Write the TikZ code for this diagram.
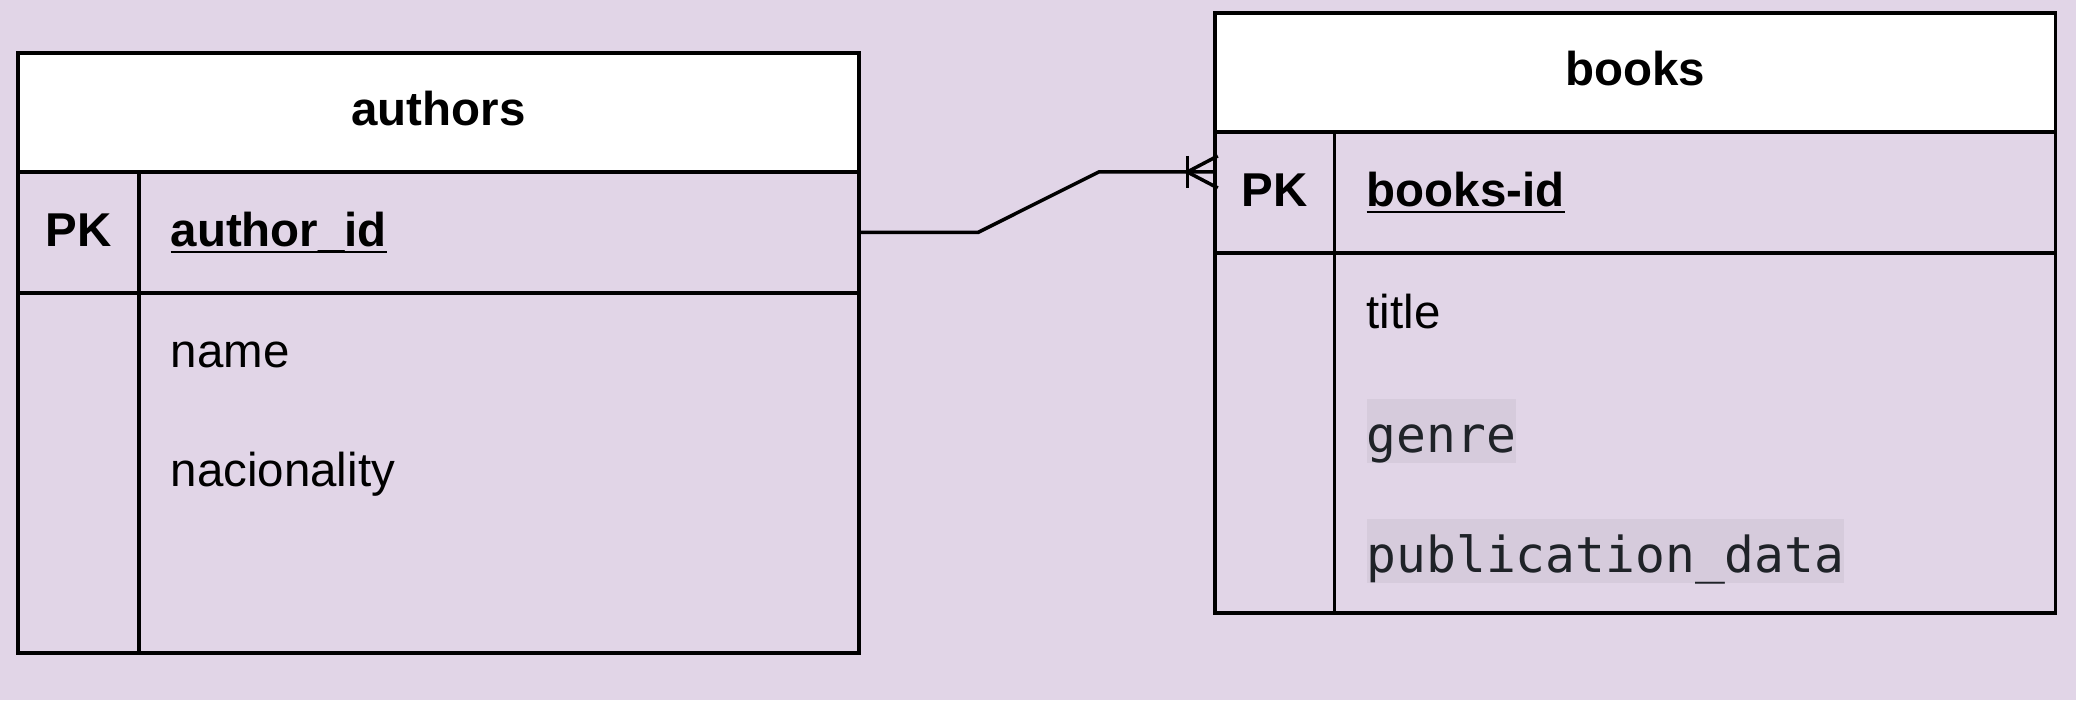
\documentclass[tikz,border=0pt]{standalone}
\usepackage{fontspec}
\setmainfont{Liberation Sans}
\setmonofont{DejaVu Sans Mono}
\usetikzlibrary{positioning,calc}
\definecolor{PAPER}{HTML}{E1D5E7}
\definecolor{MARK}{HTML}{D6CBDC}
\definecolor{CODE}{HTML}{1F2328}
% underlined key field, rule drawn just under the baseline
\newcommand\keyname[1]{\setbox0\hbox{#1}\rlap{\rule[-1.9pt]{\wd0}{0.8pt}}\box0}

\begin{document}
\begin{tikzpicture}[
  x=0.01cm, y=-0.01cm,
  edge/.style={draw=black, line width=1pt},
  tablerow/.style={edge, rectangle, inner sep=0pt, outer sep=0pt, minimum width=8.4cm},
  headrow/.style={tablerow, fill=white, minimum height=1.19cm},
  keyrow/.style={tablerow, minimum height=1.21cm},
  bodyrow/.style={tablerow},
  tabletitle/.style={font=\fontsize{13.5}{16}\selectfont\bfseries, anchor=base, inner sep=0pt},
  keyfield/.style={font=\fontsize{13.5}{16}\selectfont\bfseries, anchor=base west, inner sep=0pt},
  field/.style={font=\fontsize{13.5}{16}\selectfont, anchor=base west, inner sep=0pt},
  codefield/.style={font=\ttfamily\fontsize{14.1}{17}\selectfont, text=CODE, fill=MARK,
    anchor=base west, inner sep=0pt, text height=15pt, text depth=3pt},
]
\fill[PAPER] (0,0) rectangle (2076,700);
\useasboundingbox (0,0) rectangle (2076,700);

% ---- authors table --------------------------------------------------------
\node[headrow] (authhead) at (438.5,112.5) {};
\node[keyrow] (authkey) at (438.5,232.3) {};
\node[bodyrow, minimum height=3.604cm] (authbody) at (438.5,472.8) {};
\draw[edge] ($(authkey.north west)+(120.5,0)$) -- ($(authbody.south west)+(120.5,0)$);

\node[tabletitle] (authname) at (438.5,125) {authors};
\node[tabletitle] (authpk) at (78.75,246.7) {PK};
\node[keyfield] (authid) at (170,246.7) {\keyname{author\_id}};
\node[field] (authf1) at (170,367) {name};
\node[field] (authf2) at (170,486) {nacionality};

% ---- books table ----------------------------------------------------------
\node[headrow] (bookhead) at (1635,72.5) {};
\node[keyrow] (bookkey) at (1635,192.5) {};
\node[bodyrow, minimum height=3.6cm] (bookbody) at (1635,433) {};
\draw[edge] ($(bookkey.north west)+(119.5,0)$) -- ($(bookbody.south west)+(119.5,0)$);

\node[tabletitle] (bookname) at (1635,85) {books};
\node[tabletitle] (bookpk) at (1274.75,206.7) {PK};
\node[keyfield] (bookid) at (1366,206.7) {\keyname{books-id}};
\node[field] (bookf1) at (1366,328) {title};
\node[codefield] (bookf2) at (1366,452) {genre};
\node[codefield] (bookf3) at (1366,572) {publication\_data};

% ---- relation: one author, many books ------------------------------------
\coordinate (fk) at ($(bookkey.north west)+(0,40)$);
\draw[edge] (authkey.east) -- ++(119.5,0) -- ($(fk)+(-116,0)$) -- (fk);
\draw[edge] ($(fk)+(-27.5,-16)$) -- ++(0,32);
\draw[edge] ($(fk)+(3,-16)$) -- ($(fk)+(-27.5,0)$) -- ($(fk)+(3,16)$);

\end{tikzpicture}
\end{document}
